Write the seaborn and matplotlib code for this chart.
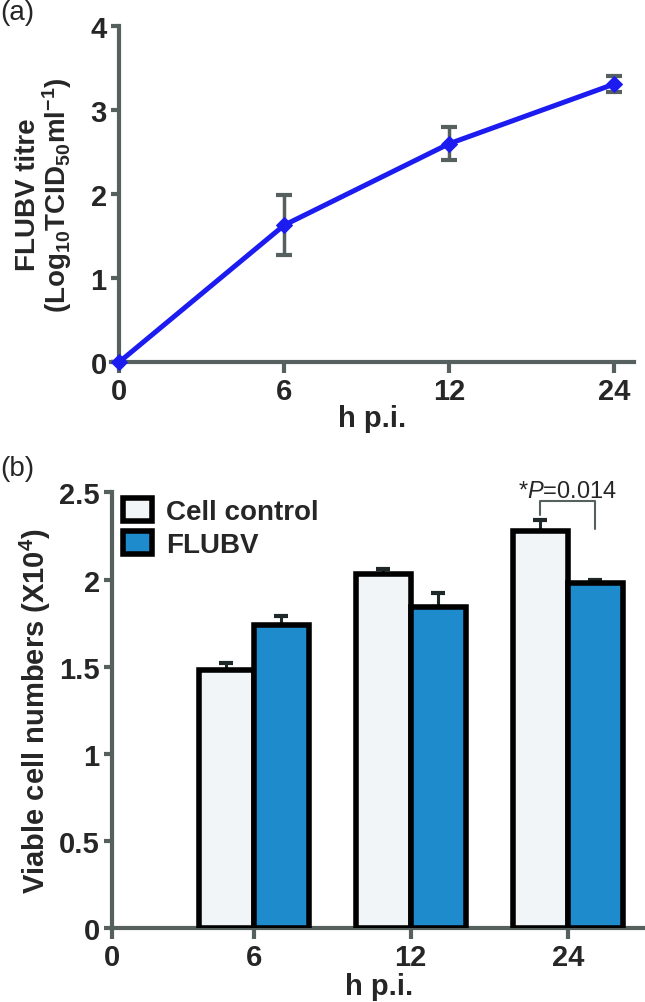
import numpy as np
import pandas as pd
import seaborn as sns
import matplotlib.pyplot as plt
from matplotlib.patches import Patch

# panel (a): virus titre
hours_a = ['0', '6', '12', '24']
titre = [0.0, 1.63, 2.60, 3.31]
titre_err = [0.0, 0.36, 0.20, 0.10]

# panel (b): viable cells
hours_b = ['6', '12', '24']
groups = ['Cell control', 'FLUBV']
control = [1.48, 2.03, 2.28]
control_err = [0.04, 0.03, 0.06]
flubv = [1.74, 1.84, 1.98]
flubv_err = [0.05, 0.08, 0.02]

sns.set_style('ticks')
plt.rcParams['font.family'] = ['Liberation Sans', 'DejaVu Sans']
plt.rcParams['mathtext.fontset'] = 'custom'
plt.rcParams['mathtext.rm'] = 'Liberation Sans'
plt.rcParams['mathtext.it'] = 'Liberation Sans:italic'
plt.rcParams['mathtext.bf'] = 'Liberation Sans:bold'

spine_col = '#56605e'
blue_line = '#1c1cf0'
pal = {'Cell control': '#f2f5f7', 'FLUBV': '#1e8bcc'}

fig = plt.figure(figsize=(6.45, 10.03), dpi=100)
ax1 = fig.add_axes([0.172, 0.638, 0.811, 0.335])
ax2 = fig.add_axes([0.174, 0.074, 0.828, 0.434])


def style_axes(ax):
    for s in ['top', 'right']:
        ax.spines[s].set_visible(False)
    for s in ['left', 'bottom']:
        ax.spines[s].set_color(spine_col)
        ax.spines[s].set_linewidth(3)
    ax.tick_params(direction='out', length=6, width=3, color=spine_col, pad=3)
    for lab in ax.get_xticklabels() + ax.get_yticklabels():
        lab.set_fontweight('bold')
        lab.set_fontsize(21)


# ---- (a) ----
pos = np.arange(len(hours_a))
df_a = pd.DataFrame({'pos': pos, 'titre': titre})
ax1.errorbar(pos, titre, yerr=titre_err, fmt='none', ecolor=spine_col,
             elinewidth=2.5, capsize=6, capthick=3, zorder=2)
sns.lineplot(data=df_a, x='pos', y='titre', ax=ax1, color=blue_line,
             linewidth=3.6, marker='D', markersize=8, markeredgecolor=blue_line,
             zorder=3, clip_on=False)
ax1.set_xlim(-0.05, 3.12)
ax1.set_ylim(0, 4)
ax1.spines['left'].set_position(('data', 0))
ax1.set_xticks(pos)
ax1.set_xticklabels(hours_a)
ax1.set_yticks([0, 1, 2, 3, 4])
ax1.set_yticklabels(['0', '1', '2', '3', '4'])
ax1.set_xlabel('h p.i.', fontsize=21, fontweight='bold', labelpad=-1)
ax1.set_ylabel('FLUBV titre\n(Log$_\\mathbf{10}$TCID$_\\mathbf{50}$ml$^\\mathbf{-1}$)',
               fontsize=20, fontweight='bold', linespacing=0.95, labelpad=12)
style_axes(ax1)
ax1.tick_params(axis='x', length=8)

# ---- (b) ----
df_b = pd.DataFrame({
    'hour': hours_b * 2,
    'group': [groups[0]] * 3 + [groups[1]] * 3,
    'value': control + flubv,
})
sns.barplot(data=df_b, x='hour', y='value', hue='group', order=hours_b,
            hue_order=groups, palette=pal, saturation=1, width=0.7,
            edgecolor='black', linewidth=4, ax=ax2, zorder=3, legend=False)

for cont, err in zip(ax2.containers, [control_err, flubv_err]):
    xs = [p.get_x() + p.get_width() / 2 for p in cont.patches]
    ys = [p.get_height() for p in cont.patches]
    ax2.errorbar(xs, ys, yerr=[np.zeros(len(err)), err], fmt='none',
                 ecolor='#1e2828', elinewidth=2.2, capsize=5, capthick=3,
                 zorder=2)

ax2.set_xlim(-0.9, 2.5)
ax2.set_ylim(0, 2.5)
ax2.set_xticks([-0.9, 0, 1, 2])
ax2.set_xticklabels(['0'] + hours_b)
ax2.set_yticks([0, 0.5, 1, 1.5, 2, 2.5])
ax2.set_yticklabels(['0', '0.5', '1', '1.5', '2', '2.5'])
ax2.set_xlabel('h p.i.', fontsize=21, fontweight='bold', labelpad=1)
ax2.set_ylabel('Viable cell numbers (X10$^\\mathbf{4}$)', fontsize=21,
               fontweight='bold', labelpad=4)
style_axes(ax2)
ax2.tick_params(axis='x', length=8)

# significance bracket at 24 h
p1 = ax2.containers[0].patches[2]
p2 = ax2.containers[1].patches[2]
x1 = p1.get_x() + p1.get_width() / 2
x2 = p2.get_x() + p2.get_width() / 2
ax2.plot([x1, x1, x2, x2], [2.37, 2.45, 2.45, 2.29], color=spine_col,
         lw=1.5, clip_on=False)
ax2.text((x1 + x2) / 2, 2.475, '*$\\it{P}$=0.014', ha='center', va='baseline',
         fontsize=17)

handles = [Patch(facecolor=pal[g], edgecolor='black', linewidth=4) for g in groups]
leg = ax2.legend(handles, groups, loc='upper left', bbox_to_anchor=(0.01, 1.0),
                 frameon=False, handlelength=1.05, handleheight=0.9,
                 handletextpad=0.5, labelspacing=0.2, borderaxespad=0.0,
                 borderpad=0.2, prop={'size': 20, 'weight': 'bold'})

fig.text(0.0, 1.0, '(a)', fontsize=20, ha='left', va='top')
fig.text(0.0, 0.545, '(b)', fontsize=20, ha='left', va='top')

fig.savefig('out.png', dpi=100)
